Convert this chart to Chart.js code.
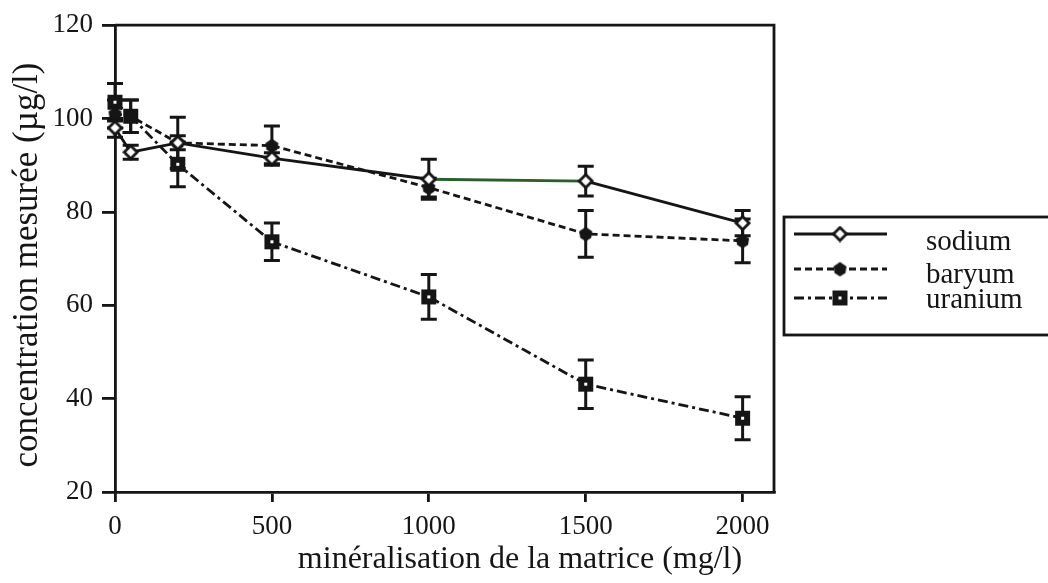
<!DOCTYPE html>
<html>
<head>
<meta charset="utf-8">
<script src="https://cdn.jsdelivr.net/npm/chart.js@4.4.1/dist/chart.umd.min.js"></script>
<style>
    body { margin: 0; background: #fff; }
    #wrap { width: 1048px; height: 583px; position: relative; }
</style>
</head>
<body>
<div id="wrap"><canvas id="canvas"></canvas></div>
<script>
const matrice = [0, 50, 200, 500, 1000, 1500, 2000];
const sodium = [98, 92.8, 94.8, 91.5, 87, 86.6, 77.6];
const sodiumErr = [2, 1.5, 1.5, 1.2, 4.3, 3.2, 2.7];
const baryum = [101, 100.5, 94.8, 94.2, 85.2, 75.3, 73.8];
const baryumErr = [3, 3.5, 5.5, 4.2, 2, 5, 4.7];
const uranium = [103.5, 100.5, 90.2, 73.6, 61.8, 43.1, 35.8];
const uraniumErr = [4, 3.5, 4.8, 4, 4.8, 5.2, 4.6];
const xTicks = [0, 500, 1000, 1500, 2000];
const yTicks = [20, 40, 60, 80, 100, 120];
const seriesNames = ['sodium', 'baryum', 'uranium'];

const SERIF = '"Liberation Serif", "DejaVu Serif", serif';
const INK = '#151515';

// marker images
const makeMarker = (kind) => {
    const c = document.createElement('canvas');
    c.width = 17; c.height = 17;
    const g = c.getContext('2d');
    if (kind === 'diamond') {
        g.beginPath();
        g.moveTo(8.5, 2); g.lineTo(15, 8.5); g.lineTo(8.5, 15); g.lineTo(2, 8.5); g.closePath();
        g.fillStyle = '#fff'; g.fill();
        g.lineWidth = 2.8; g.strokeStyle = INK; g.stroke();
    } else if (kind === 'dot') {
        g.beginPath();
        g.moveTo(8.5, 1.5); g.lineTo(15, 6); g.lineTo(14, 12.5); g.lineTo(8.5, 16); g.lineTo(3, 12.5); g.lineTo(2, 6); g.closePath();
        g.fillStyle = INK; g.fill();
    } else {
        g.fillStyle = INK; g.fillRect(1, 1, 15, 15);
        g.fillStyle = '#fff'; g.fillRect(7, 7, 3, 3);
    }
    return c;
};
const markers = [makeMarker('diamond'), makeMarker('dot'), makeMarker('square')];
const dashes = [[], [7, 4], [10, 4, 3, 4]];
const errors = [sodiumErr, baryumErr, uraniumErr];

const toPoints = (vals) => matrice.map((x, i) => ({ x: x, y: vals[i] }));

const errorBars = {
    id: 'errorBars',
    beforeDatasetsDraw(chart) {
        const ctx = chart.ctx;
        const xs = chart.scales.x, ys = chart.scales.y;
        ctx.save();
        ctx.strokeStyle = INK;
        ctx.lineWidth = 3;
        chart.data.datasets.forEach((ds, d) => {
            ds.data.forEach((p, i) => {
                const e = errors[d][i];
                const px = xs.getPixelForValue(p.x);
                const top = ys.getPixelForValue(p.y + e);
                const bot = ys.getPixelForValue(p.y - e);
                ctx.beginPath();
                ctx.moveTo(px, top); ctx.lineTo(px, bot);
                ctx.moveTo(px - 8, top); ctx.lineTo(px + 8, top);
                ctx.moveTo(px - 8, bot); ctx.lineTo(px + 8, bot);
                ctx.stroke();
            });
        });
        ctx.restore();
    }
};

const frameAndText = {
    id: 'frameAndText',
    afterDraw(chart) {
        const ctx = chart.ctx;
        const a = chart.chartArea;
        ctx.save();
        ctx.strokeStyle = INK;
        ctx.lineWidth = 2.8;
        ctx.beginPath();
        ctx.moveTo(a.left, a.top); ctx.lineTo(a.right, a.top); ctx.lineTo(a.right, a.bottom);
        ctx.stroke();

        // axis titles
        ctx.fillStyle = INK;
        ctx.textAlign = 'center';
        ctx.textBaseline = 'alphabetic';
        ctx.font = '32px ' + SERIF;
        ctx.fillText('minéralisation de la matrice (mg/l)', 520, 568);
        ctx.save();
        ctx.font = '35px ' + SERIF;
        ctx.translate(37, 265);
        ctx.rotate(-Math.PI / 2);
        ctx.fillText('concentration mesurée (µg/l)', 0, 0);
        ctx.restore();

        // legend box
        ctx.lineWidth = 2.8;
        ctx.strokeRect(784, 217, 300, 118);
        const rows = [234, 269, 298];
        const baselines = [250, 283, 308];
        ctx.font = '29px ' + SERIF;
        ctx.textAlign = 'left';
        seriesNames.forEach((name, i) => {
            ctx.setLineDash(dashes[i]);
            ctx.lineWidth = 2.8;
            ctx.beginPath();
            ctx.moveTo(794, rows[i]); ctx.lineTo(887, rows[i]);
            ctx.stroke();
            ctx.setLineDash([]);
            ctx.drawImage(markers[i], 840 - 8.5, rows[i] - 8.5);
            ctx.fillText(name, 926, baselines[i]);
        });
        ctx.restore();
    }
};

const ctx = document.getElementById('canvas').getContext('2d');
window.myChart = new Chart(ctx, {
    type: 'line',
    data: {
        datasets: [sodium, baryum, uranium].map((vals, i) => ({
            label: seriesNames[i],
            data: toPoints(vals),
            borderColor: INK,
            borderWidth: 2.8,
            borderDash: dashes[i],
            pointStyle: markers[i],
            pointRadius: 8,
            tension: 0,
            clip: false,
            segment: i === 0 ? { borderColor: (c) => c.p0DataIndex === 4 ? '#2c5e2c' : undefined } : undefined
        }))
    },
    plugins: [errorBars, frameAndText],
    options: {
        responsive: true,
        maintainAspectRatio: false,
        animation: false,
        layout: { padding: { top: 16, right: 274, left: 0, bottom: 0 } },
        plugins: { legend: { display: false }, tooltip: { enabled: false } },
        scales: {
            x: {
                type: 'linear',
                min: 0,
                max: 2100,
                afterBuildTicks: (scale) => { scale.ticks = xTicks.map((v) => ({ value: v })); },
                afterFit: (scale) => { scale.height = 91; },
                ticks: { color: INK, font: { family: SERIF, size: 27 }, padding: 9, maxRotation: 0, callback: (v) => String(v) },
                grid: { drawOnChartArea: false, drawTicks: true, tickLength: 10, color: INK, lineWidth: 2.8 },
                border: { display: true, color: INK, width: 2.8 }
            },
            y: {
                min: 20,
                max: 120,
                afterBuildTicks: (scale) => { scale.ticks = yTicks.map((v) => ({ value: v })); },
                afterFit: (scale) => { scale.width = 115; },
                ticks: { color: INK, font: { family: SERIF, size: 27 }, padding: 9 },
                grid: { drawOnChartArea: false, drawTicks: true, tickLength: 13, color: INK, lineWidth: 2.8 },
                border: { display: true, color: INK, width: 2.8 }
            }
        }
    }
});
</script>
</body>
</html>
